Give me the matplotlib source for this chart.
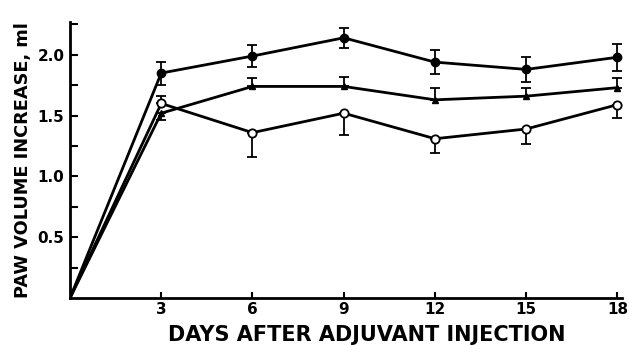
import matplotlib
matplotlib.use("Agg")
import matplotlib.pyplot as plt
import numpy as np

days = [0, 3, 6, 9, 12, 15, 18]
filled = [0, 1.85, 1.99, 2.14, 1.94, 1.88, 1.98]
filled_err = [0, 0.095, 0.09, 0.08, 0.10, 0.10, 0.11]
tri = [0, 1.52, 1.74, 1.74, 1.63, 1.66, 1.73]
tri_err_lo = [0, 0.06, 0, 0, 0, 0, 0]
tri_err_hi = [0, 0.0, 0.07, 0.08, 0.10, 0.07, 0.08]
open_ = [0, 1.60, 1.36, 1.52, 1.31, 1.39, 1.59]
open_err_lo = [0, 0, 0.20, 0.18, 0.12, 0.12, 0.11]
open_err_hi = [0, 0.06, 0, 0, 0, 0, 0]

xticks = [3, 6, 9, 12, 15, 18]
yticks_major = [0.5, 1.0, 1.5, 2.0]
yticks_minor = [0.25, 0.75, 1.25, 1.75, 2.25]

fig = plt.figure(figsize=(6.29, 3.45), dpi=100)
ax = fig.add_axes([70/629, 47/345, 552/629, 276/345])

lw = 2.0
ebkw = dict(fmt="none", ecolor="black", elinewidth=1.3, capsize=3.5, capthick=1.3)
ax.errorbar(days[1:], filled[1:], yerr=filled_err[1:], **ebkw)
ax.plot(days, filled, color="black", lw=lw, marker="o", ms=6, markevery=list(range(1, 7)),
        mfc="black", mec="black")
ax.errorbar(days[1:], tri[1:], yerr=[tri_err_lo[1:], tri_err_hi[1:]], **ebkw)
ax.plot(days, tri, color="black", lw=lw, marker="^", ms=5, markevery=list(range(1, 7)),
        mfc="black", mec="black")
ax.errorbar(days[1:], open_[1:], yerr=[open_err_lo[1:], open_err_hi[1:]], **ebkw)
ax.plot(days, open_, color="black", lw=lw, marker="o", ms=6, markevery=list(range(1, 7)),
        mfc="white", mec="black", mew=1.3, zorder=5)

ax.set_xlim(0, 18.15)
ax.set_ylim(0, 2.27)
ax.spines["top"].set_visible(False)
ax.spines["right"].set_visible(False)
ax.spines["left"].set_linewidth(2)
ax.spines["bottom"].set_linewidth(2)

ax.set_xticks(xticks)
ax.set_xticklabels([str(x) for x in xticks], fontsize=11, fontweight="bold")
ax.set_yticks(yticks_major)
ax.set_yticklabels([f"{y:.1f}" for y in yticks_major], fontsize=11, fontweight="bold")
ax.set_yticks(yticks_minor, minor=True)
ax.tick_params(axis="both", which="both", direction="in", width=1.5)
ax.tick_params(axis="y", which="major", length=6, pad=4)
ax.tick_params(axis="y", which="minor", length=6)
ax.tick_params(axis="x", which="major", length=4, pad=3)

ax.set_xlabel("DAYS AFTER ADJUVANT INJECTION", fontsize=15, fontweight="bold")
ax.xaxis.set_label_coords((367 - 70) / 552, (298 - 325) / 276)
ax.set_ylabel("PAW VOLUME INCREASE, ml", fontsize=12.8, fontweight="bold", labelpad=4)

fig.savefig("out.png", dpi=100)
